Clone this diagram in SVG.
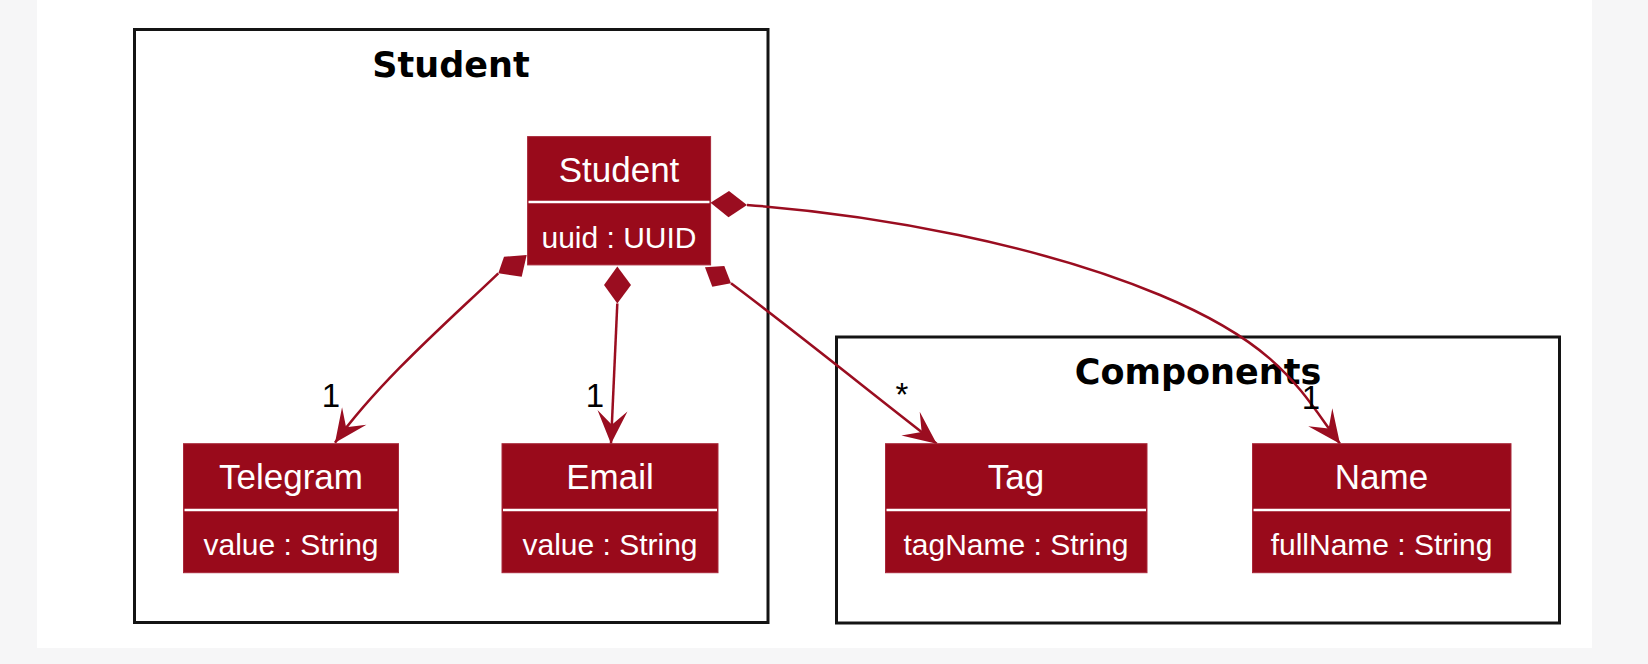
<svg xmlns="http://www.w3.org/2000/svg" width="1648" height="664" viewBox="0 0 1648 664">
  <defs>
    <style>
      .frame { fill: none; stroke: #141414; stroke-width: 3; }
      .ftitle { font-family: "DejaVu Sans", sans-serif; font-weight: bold; font-size: 35px; fill: #000; text-anchor: middle; }
      .box { fill: #990A1B; stroke: #A8283A; stroke-width: 1; }
      .div { stroke: #ffffff; stroke-width: 2.5; }
      .cname { font-family: "Liberation Sans", Arial, sans-serif; font-size: 35px; fill: #ffffff; text-anchor: middle; }
      .attr { font-family: "Liberation Sans", Arial, sans-serif; font-size: 30px; fill: #ffffff; text-anchor: middle; }
      .conn { fill: none; stroke: #9A0D20; stroke-width: 2.5; }
      .dia { fill: #9A0D20; stroke: none; }
      .mult { font-family: "Liberation Sans", Arial, sans-serif; font-size: 33px; fill: #000; text-anchor: middle; }
    </style>
    <marker id="arrow" markerUnits="userSpaceOnUse" viewBox="-36 -18 38 36" markerWidth="38" markerHeight="36" refX="0" refY="0" orient="auto">
      <path d="M0,0 L-33,-15 L-19,0 L-33,15 Z" fill="#9A0D20"/>
    </marker>
  </defs>

  <rect x="0" y="0" width="1648" height="664" fill="#f6f6f7"/>
  <rect x="37" y="0" width="1555" height="648" fill="#ffffff"/>

  <g id="pkg-student">
    <rect class="frame" x="134.5" y="29.5" width="633.5" height="593"/>
    <text class="ftitle" x="451" y="77">Student</text>
  </g>
  <g id="pkg-components">
    <rect class="frame" x="836.5" y="337" width="723" height="286"/>
    <text class="ftitle" x="1198" y="384">Components</text>
  </g>

  <g id="connectors">
    <polygon class="dia" points="526.7,255 504,256.7 498.3,273.3 521.7,276.7"/>
    <path class="conn" d="M498.3,273.3 C455,315 380,380 335,442.7" marker-end="url(#arrow)"/>
    <polygon class="dia" points="617.3,266.5 604,285 617.3,303.5 631,285"/>
    <path class="conn" d="M617.3,303.5 L611,443.7" marker-end="url(#arrow)"/>
    <polygon class="dia" points="705,267.3 724.3,266 731,283.3 712.3,286.7"/>
    <path class="conn" d="M731,283.3 C800,335 880,400 936.7,443.7" marker-end="url(#arrow)"/>
    <polygon class="dia" points="710.5,202.7 729,191 747,205 728.5,217.3"/>
    <path class="conn" d="M747,205 C880,215 1040,245 1160,295 S1300,390 1340,443.7" marker-end="url(#arrow)"/>
    <text class="mult" x="331" y="407">1</text>
    <text class="mult" x="595" y="407">1</text>
    <text class="mult" x="902" y="406">*</text>
    <text class="mult" x="1311" y="409">1</text>
  </g>

  <g id="node-student">
    <rect class="box" x="527.6" y="136.6" width="183" height="128.3"/>
    <line class="div" x1="528.5" y1="202" x2="709.5" y2="202"/>
    <text class="cname" x="619" y="181.5">Student</text>
    <text class="attr" x="619" y="248">uuid : UUID</text>
  </g>
  <g id="node-telegram">
    <rect class="box" x="183.5" y="443.7" width="215" height="129"/>
    <line class="div" x1="184.5" y1="510" x2="397.5" y2="510"/>
    <text class="cname" x="291" y="488.7">Telegram</text>
    <text class="attr" x="291" y="554.7">value : String</text>
  </g>
  <g id="node-email">
    <rect class="box" x="502" y="443.7" width="216" height="129"/>
    <line class="div" x1="503" y1="510" x2="717" y2="510"/>
    <text class="cname" x="610" y="488.7">Email</text>
    <text class="attr" x="610" y="554.7">value : String</text>
  </g>
  <g id="node-tag">
    <rect class="box" x="885.5" y="443.7" width="261.5" height="129"/>
    <line class="div" x1="886.5" y1="510" x2="1146" y2="510"/>
    <text class="cname" x="1016" y="488.7">Tag</text>
    <text class="attr" x="1016" y="554.7">tagName : String</text>
  </g>
  <g id="node-name">
    <rect class="box" x="1252.5" y="443.7" width="258.5" height="129"/>
    <line class="div" x1="1253.5" y1="510" x2="1510" y2="510"/>
    <text class="cname" x="1381.5" y="488.7">Name</text>
    <text class="attr" x="1381.5" y="554.7">fullName : String</text>
  </g>
</svg>
